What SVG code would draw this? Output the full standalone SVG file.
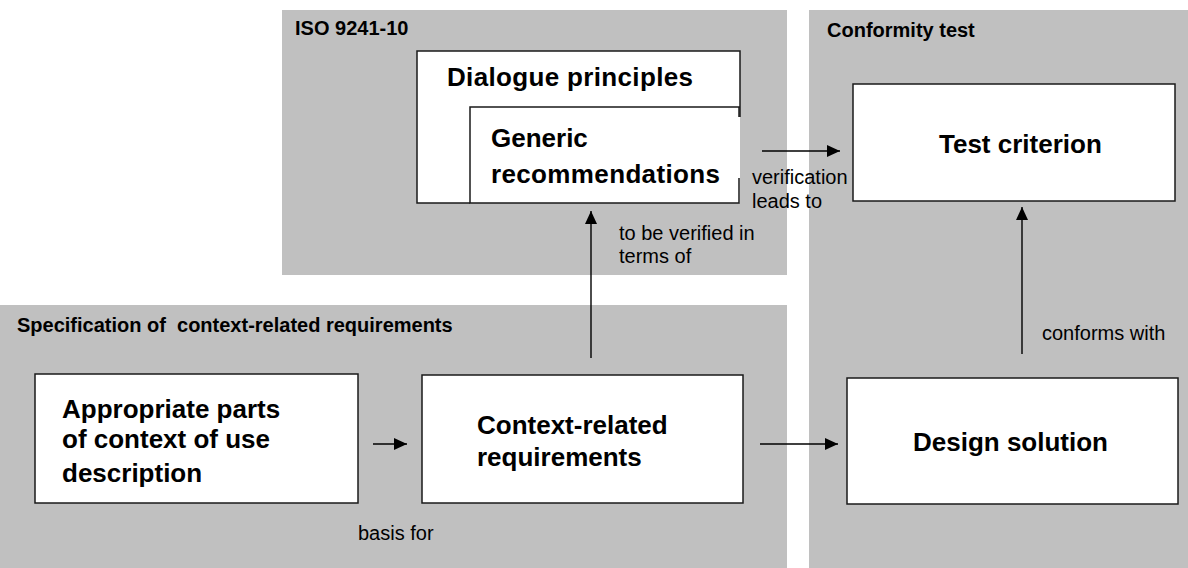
<svg xmlns="http://www.w3.org/2000/svg" width="1188" height="568" viewBox="0 0 1188 568">
  <style>
    .panel { fill: #c0c0c0; stroke: none; }
    .box { fill: #ffffff; stroke: #1a1a1a; stroke-width: 1.5; }
    .edge { fill: none; stroke: #1a1a1a; stroke-width: 1.5; }
    .head { font-family: "Liberation Sans", Arial, sans-serif; font-weight: bold; font-size: 20px; fill: #000; }
    .node { font-family: "Liberation Sans", Arial, sans-serif; font-weight: bold; font-size: 26px; fill: #000; }
    .lbl { font-family: "Liberation Sans", Arial, sans-serif; font-size: 20px; fill: #000; }
    .conn { fill: none; stroke: #000; stroke-width: 1.4; marker-end: url(#arrow); }
  </style>
  <defs>
    <marker id="arrow" markerUnits="userSpaceOnUse" markerWidth="13" markerHeight="12" refX="13" refY="6" orient="auto">
      <path d="M0,0 L13,6 L0,12 z" fill="#000"/>
    </marker>
  </defs>

  <rect width="1188" height="568" fill="#ffffff"/>

  <!-- grey grouping areas -->
  <g id="panel-iso">
    <rect class="panel" x="282" y="10" width="505" height="265"/>
    <text class="head" x="295" y="35">ISO 9241-10</text>
  </g>
  <g id="panel-conformity">
    <rect class="panel" x="809" y="10" width="379" height="558"/>
    <text class="head" x="827" y="37">Conformity test</text>
  </g>
  <g id="panel-specification">
    <rect class="panel" x="0" y="305" width="787" height="263"/>
    <text class="head" x="17" y="332" xml:space="preserve">Specification of  context-related requirements</text>
  </g>

  <!-- nodes -->
  <g id="node-dialogue-principles">
    <rect x="417" y="51" width="323" height="152" fill="#ffffff"/>
    <path class="edge" d="M740,117 V51 H417 V203 H470"/>
    <text class="node" x="447" y="86" textLength="246">Dialogue principles</text>
  </g>
  <g id="node-generic-recommendations">
    <rect x="470" y="107" width="269" height="96" fill="#ffffff"/>
    <path class="edge" d="M740,107 H470 V203 H739 V178 M739,107 V117"/>
    <text class="node" x="491" y="147">Generic</text>
    <text class="node" x="491" y="183" textLength="229">recommendations</text>
  </g>
  <g id="node-test-criterion">
    <rect class="box" x="853" y="84" width="322" height="117"/>
    <text class="node" x="939" y="153">Test criterion</text>
  </g>
  <g id="node-appropriate-parts">
    <rect class="box" x="35" y="374" width="323" height="129"/>
    <text class="node" x="62" y="418">Appropriate parts</text>
    <text class="node" x="62" y="448">of context of use</text>
    <text class="node" x="62" y="482">description</text>
  </g>
  <g id="node-context-requirements">
    <rect class="box" x="422" y="375" width="321" height="128"/>
    <text class="node" x="477" y="434">Context-related</text>
    <text class="node" x="477" y="466">requirements</text>
  </g>
  <g id="node-design-solution">
    <rect class="box" x="847" y="378" width="331" height="126"/>
    <text class="node" x="913" y="451">Design solution</text>
  </g>

  <!-- connectors and their labels -->
  <g id="connectors">
    <line class="conn" x1="373" y1="444" x2="407" y2="444"/>
    <line class="conn" x1="760" y1="444" x2="838" y2="444"/>
    <line class="conn" x1="591" y1="358" x2="591" y2="211"/>
    <line class="conn" x1="1022" y1="354" x2="1022" y2="207"/>
    <line class="conn" x1="762" y1="151" x2="840" y2="151"/>
    <text class="lbl" x="752" y="184">verification</text>
    <text class="lbl" x="752" y="208">leads to</text>
    <text class="lbl" x="619" y="240">to be verified in</text>
    <text class="lbl" x="619" y="263">terms of</text>
    <text class="lbl" x="1042" y="340">conforms with</text>
    <text class="lbl" x="358" y="540">basis for</text>
  </g>
</svg>
